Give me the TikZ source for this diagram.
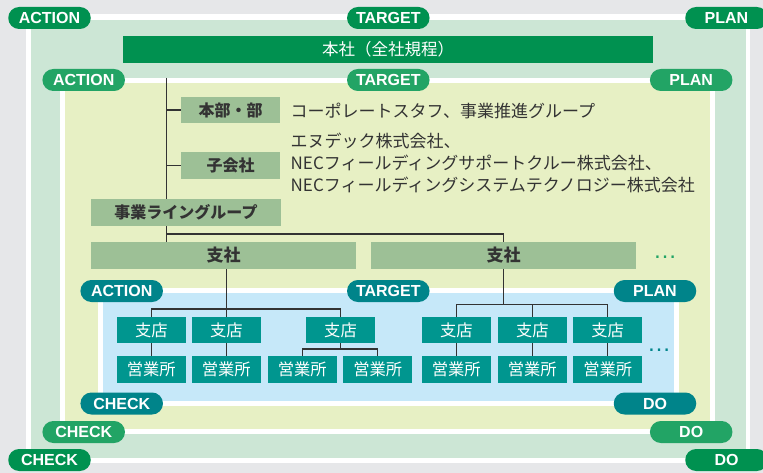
\documentclass[tikz,border=0pt]{standalone}
\usepackage{fontspec}
\setmainfont{Liberation Sans}
\newfontfamily\jp{Noto Sans CJK JP}
\definecolor{bggray}{HTML}{E6E7E9}
\definecolor{lone}{HTML}{CCE6D5}
\definecolor{ltwo}{HTML}{E7F0C4}
\definecolor{lthree}{HTML}{C6E8F9}
\definecolor{gdark}{HTML}{009150}
\definecolor{gmid}{HTML}{22A465}
\definecolor{tealdark}{HTML}{00848A}
\definecolor{tealbox}{HTML}{00968F}
\definecolor{sage}{HTML}{9DC096}
\definecolor{ink}{HTML}{333333}
\tikzset{
  pill/.style={rounded corners=10.9pt, minimum width=82.5pt, minimum height=22pt, inner sep=0pt, text=white, font=\fontsize{16}{16}\selectfont\bfseries},
  pone/.style={pill, fill=gdark},
  ptwo/.style={pill, fill=gmid},
  pthree/.style={pill, fill=tealdark},
  sagebox/.style={fill=sage, inner sep=0pt, text=ink, font=\jp\bfseries\fontsize{16}{16}\selectfont},
  tealnode/.style={fill=tealbox, inner sep=0pt, text=white, minimum width=68.7pt, font=\jp\fontsize{16.3}{16.3}\selectfont},
  branch/.style={tealnode, minimum height=25.7pt},
  office/.style={tealnode, minimum height=26.7pt},
  conn/.style={draw=ink, line width=1.2pt},
  plain/.style={text=ink, inner sep=0pt, font=\jp\fontsize{17}{21.6}\selectfont},
  morer/.style={inner sep=0pt, font=\fontsize{24}{24}\selectfont},
}
\begin{document}
\begin{tikzpicture}[x=1pt, y=-1pt]
\useasboundingbox (0,0) rectangle (763,473);
\clip (0,0) rectangle (763,473);
\fill[bggray] (0,0) rectangle (763,473);
% level frames
\fill[white] (26,14.5) rectangle (750,462.5);
\fill[lone] (31,20.5) rectangle (745.5,457.5);
\fill[white] (60,77.7) rectangle (715,434.3);
\fill[ltwo] (64.5,82.7) rectangle (710,429.3);
\fill[white] (97.7,287.7) rectangle (679.3,406);
\fill[lthree] (102.7,293.3) rectangle (674,400.7);

% title bar
\node[fill=gdark, inner sep=0pt, minimum width=530pt, minimum height=26.7pt, text=white, font=\jp\fontsize{16.5}{16.5}\selectfont] (hq) at (388.2,49.5) {本社（全社規程）};

% trunk
\coordinate (trunk) at (166.7,78);
\coordinate (bus) at (166.7,234);

\node[sagebox, minimum width=99pt, minimum height=26pt] (dept) at (230.5,110) {本部・部};
\node[sagebox, minimum width=99pt, minimum height=26.7pt] (subsid) at (230.5,165.5) {子会社};

\draw[conn] (trunk) -- (bus |- 0,242);
\draw[conn] (bus) -- (503.5,234) -- (503.5,242);
\draw[conn] (trunk |- dept.west) -- (dept.west);
\draw[conn] (trunk |- subsid.west) -- (subsid.west);

\node[sagebox, minimum width=190pt, minimum height=26.7pt] (line) at (186,212.5) {事業ライングループ};

\node[plain, anchor=west] (deptxt) at (290.5,110.5) {コーポレートスタフ、事業推進グループ};
\node[plain, anchor=west, align=left] (subtxt) at (290.5,163) {エヌデック株式会社、\\NECフィールディングサポートクルー株式会社、\\NECフィールディングシステムテクノロジー株式会社};

% branch offices
\node[branch] (b1) at (151.3,330) {支店};
\node[branch] (b2) at (226.3,330) {支店};
\node[branch] (b3) at (340.5,330) {支店};
\node[branch] (b4) at (456.3,330) {支店};
\node[branch] (b5) at (532.3,330) {支店};
\node[branch] (b6) at (607.7,330) {支店};

\node[office] (o1) at (151.3,369.3) {営業所};
\node[office] (o2) at (226.3,369.3) {営業所};
\node[office] (o3) at (302.3,369.3) {営業所};
\node[office] (o4) at (377.7,369.3) {営業所};
\node[office] (o5) at (456.3,369.3) {営業所};
\node[office] (o6) at (532.3,369.3) {営業所};
\node[office] (o7) at (607.7,369.3) {営業所};

% regional companies
\node[sagebox, minimum width=265pt, minimum height=26.7pt, font=\jp\bfseries\fontsize{17}{17}\selectfont] (s1) at (223.5,255.3) {支社};
\node[sagebox, minimum width=265pt, minimum height=26.7pt, font=\jp\bfseries\fontsize{17}{17}\selectfont] (s2) at (503.5,255.3) {支社};
\node[morer, text=gmid] (dots1) at (665,257) {…};

\draw[conn] (s1.south -| b2.north) -- (b2.north);
\draw[conn] (b1.north) -- ++(0,-8) -| (b3.north);
\draw[conn] (s2.south) -- (s2.south |- 0,304.3);
\draw[conn] (b4.north) -- ++(0,-12.7) -| (b6.north);
\draw[conn] (b5.north) -- ++(0,-12.7);

\draw[conn] (b1.south) -- (o1.north);
\draw[conn] (b2.south) -- (o2.north);
\draw[conn] (b3.south) -- ++(0,6.6);
\draw[conn] (o3.north) -- ++(0,-6.7) -| (o4.north);
\draw[conn] (b4.south) -- (o5.north);
\draw[conn] (b5.south) -- (o6.north);
\draw[conn] (b6.south) -- (o7.north);
\node[morer, text=tealdark] (dots2) at (659,350) {…};

% pills level 1
\node[pone] (a1) at (49.5,18) {ACTION};
\node[pone] (t1) at (388.3,18) {TARGET};
\node[pone] (p1) at (726.5,18) {PLAN};
\node[pone] (c1) at (49.5,460) {CHECK};
\node[pone] (d1) at (726.5,460) {DO};
% pills level 2
\node[ptwo] (a2) at (83.7,80) {ACTION};
\node[ptwo] (t2) at (388.3,80) {TARGET};
\node[ptwo] (p2) at (691.2,80) {PLAN};
\node[ptwo] (c2) at (83.7,432) {CHECK};
\node[ptwo] (d2) at (691.2,432) {DO};
% pills level 3
\node[pthree] (a3) at (121.7,291) {ACTION};
\node[pthree] (t3) at (388.3,291) {TARGET};
\node[pthree] (p3) at (655,291) {PLAN};
\node[pthree] (c3) at (121.7,403.5) {CHECK};
\node[pthree] (d3) at (655,403.5) {DO};
\end{tikzpicture}
\end{document}
